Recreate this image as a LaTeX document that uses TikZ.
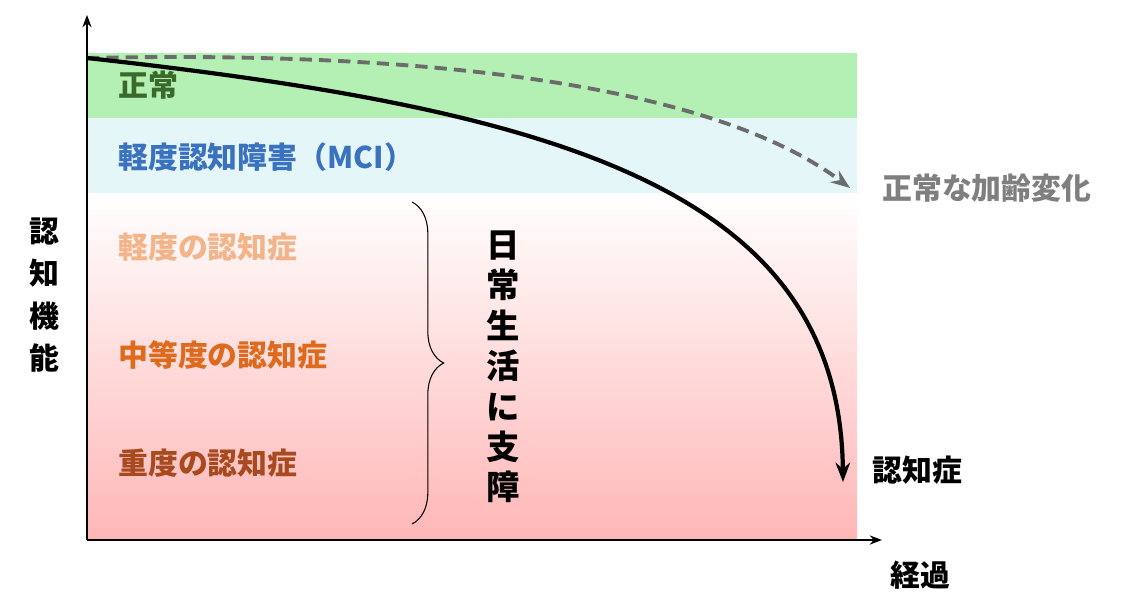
\documentclass[tikz,border=0pt]{standalone}
\usepackage{fontspec}
\setmainfont{Noto Sans CJK JP}
\usetikzlibrary{decorations.pathreplacing,arrows.meta}
\definecolor{bandgreen}{HTML}{B4F0B4}
\definecolor{bandblue}{HTML}{E4F6F8}
\definecolor{bandpink}{HTML}{FFB6B6}
\definecolor{txtgreen}{HTML}{3A6A2A}
\definecolor{txtblue}{HTML}{3A72C0}
\definecolor{txtlight}{HTML}{F2B488}
\definecolor{txtmid}{HTML}{DE6A1E}
\definecolor{txtdark}{HTML}{A84A20}
\definecolor{txtgray}{HTML}{7F7F7F}
\begin{document}
\begin{tikzpicture}[x=0.02cm, y=-0.02cm, font=\bfseries\fontsize{17}{20}\selectfont]
    \tikzstyle{label}=[inner sep=0pt, anchor=west]
    \tikzstyle{vtext}=[inner sep=0pt, text width=1.2em, align=center]

    \useasboundingbox (0,0) rectangle (1135,599);

    % bands
    \fill[bandgreen] (87,53) rectangle (857,118);
    \fill[bandblue] (87,118) rectangle (857,193);
    \shade[top color=white, bottom color=bandpink] (87,193) rectangle (857,540);

    % axes
    \coordinate (O) at (87,540);
    \coordinate (ytop) at (87,15);
    \coordinate (xend) at (882,540);
    \draw[-{Stealth[length=7pt]}, thick] (O) -- (ytop);
    \draw[-{Stealth[length=7pt]}, thick] (O) -- (xend);

    % stage labels
    \node[label, text=txtgreen] (normal) at (118,85) {正常};
    \node[label, text=txtblue] (mci) at (118,157) {軽度認知障害（MCI）};
    \node[label, text=txtlight] (mild) at (118,247) {軽度の認知症};
    \node[label, text=txtmid] (moderate) at (118,355) {中等度の認知症};
    \node[label, text=txtdark] (severe) at (118,463) {重度の認知症};

    % brace
    \coordinate (btop) at (412,202);
    \coordinate (bbot) at (412,524);
    \draw[semithick, decorate, decoration={brace, amplitude=18pt}] (btop) -- (bbot);
    \node[vtext, font=\bfseries\fontsize{19}{23}\selectfont] (daily) at (497,367) {日\\常\\生\\活\\に\\支\\障};

    % curves
    \coordinate (start) at (87,58);
    \coordinate (aging) at (850,188);
    \coordinate (dementia) at (843,482);
    \draw[line width=2.2pt, dash pattern=on 7pt off 4pt, draw=txtgray!85!black, -{Stealth[length=11pt]}]
        (start) .. controls (450,50) and (720,90) .. (aging);
    \draw[line width=2.4pt, -{Stealth[length=11pt]}]
        (start) .. controls (560,110) and (840,190) .. (dementia);

    % axis and curve labels
    \node[label, text=txtgray] (aginglabel) at (882,188) {正常な加齢変化};
    \node[label] (dementialabel) at (872,470) {認知症};
    \node[label] (time) at (890,575) {経過};
    \node[vtext, font=\bfseries\fontsize{17}{24}\selectfont] (cognition) at (40,295) {認\\知\\機\\能};
\end{tikzpicture}
\end{document}
